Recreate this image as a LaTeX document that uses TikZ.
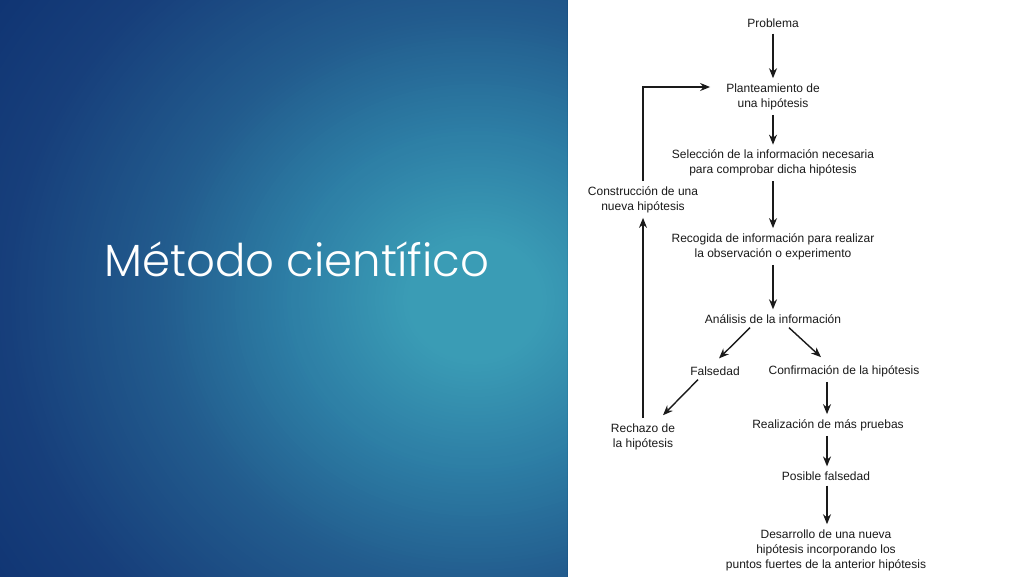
\documentclass[tikz,border=0pt]{standalone}
\usepackage{fontspec}
\setmainfont{Liberation Sans}
\newfontfamily\titlefont{Poppins Light}
\usetikzlibrary{arrows.meta}
\definecolor{ink}{HTML}{1A1A1A}
\definecolor{cA}{HTML}{3A9CB5}
\definecolor{cB}{HTML}{2D7EA5}
\definecolor{cC}{HTML}{225B8D}
\definecolor{cD}{HTML}{173F7B}
\definecolor{cE}{HTML}{0F3372}
\tikzset{
  lbl/.style={font=\fontsize{12}{15}\selectfont, text=ink, align=center, inner sep=1pt},
  arr/.style={-{Stealth[length=10pt,width=8pt]}, line width=1.4pt, draw=ink}
}
\begin{document}
\begin{tikzpicture}[x=1pt,y=-1pt]
\useasboundingbox (0,0) rectangle (1024,576);
\fill[white] (0,0) rectangle (1024,576);
\begin{scope}
  \clip (0,0) rectangle (567,576);
  \fill[cE] (0,0) rectangle (567,576);
  \foreach \r in {640,636,...,4} {
    \ifdim\r pt>470pt
      \pgfmathsetmacro\p{min(100,(\r-470)/130*100)}\edef\col{cE!\p!cD}%
    \else\ifdim\r pt>320pt
      \pgfmathsetmacro\p{(\r-320)/150*100}\edef\col{cD!\p!cC}%
    \else\ifdim\r pt>190pt
      \pgfmathsetmacro\p{(\r-190)/130*100}\edef\col{cC!\p!cB}%
    \else\ifdim\r pt>70pt
      \pgfmathsetmacro\p{(\r-70)/120*100}\edef\col{cB!\p!cA}%
    \else
      \edef\col{cA}%
    \fi\fi\fi\fi
    \fill[color=\col] (475,300) ellipse [x radius=\r pt, y radius=0.9*\r pt];
  }
\end{scope}
\node[anchor=base west, text=white, inner sep=0pt] (title) at (104,276) {\resizebox{385pt}{!}{\titlefont Método científico}};

\node[lbl] (prob) at (773,23) {Problema};
\node[lbl] (plan) at (773,96.5) {Planteamiento de\\una hipótesis};
\node[lbl] (sel) at (773,163) {Selección de la información necesaria\\para comprobar dicha hipótesis};
\node[lbl] (rec) at (773,246.5) {Recogida de información para realizar\\la observación o experimento};
\node[lbl] (ana) at (773,319) {Análisis de la información};
\node[lbl] (fal) at (715,371) {Falsedad};
\node[lbl] (conf) at (844,371) {Confirmación de la hipótesis};
\node[lbl] (rech) at (643,436.5) {Rechazo de\\la hipótesis};
\node[lbl] (cons) at (643,199.5) {Construcción de una\\nueva hipótesis};
\node[lbl] (real) at (828,425) {Realización de más pruebas};
\node[lbl] (pos) at (826,476) {Posible falsedad};
\node[lbl] (des) at (826,550) {Desarrollo de una nueva\\hipótesis incorporando los\\puntos fuertes de la anterior hipótesis};
\coordinate (colR) at (827,0);

\draw[arr, shorten <=5pt, shorten >=4pt] (prob.south) -- (plan.north);
\draw[arr, shorten <=4pt, shorten >=4pt] (plan.south) -- (sel.north);
\draw[arr, shorten <=4pt, shorten >=4pt] (sel.south) -- (rec.north);
\draw[arr, shorten <=4pt, shorten >=4pt] (rec.south) -- (ana.north);
\draw[arr] ([xshift=-23pt,yshift=-3pt]ana.south) -- ([xshift=4pt,yshift=7pt]fal.north);
\draw[arr] ([xshift=16pt,yshift=-3pt]ana.south) -- ([xshift=-23pt,yshift=7pt]conf.north);
\draw[arr] ([xshift=-17pt,yshift=-3pt]fal.south) -- ([xshift=20pt,yshift=7pt]rech.north);
\draw[arr, shorten <=4pt, shorten >=4pt] (conf.south -| colR) -- (real.north -| colR);
\draw[arr, shorten <=4pt, shorten >=4pt] (real.south -| colR) -- (pos.north -| colR);
\draw[arr, shorten <=4pt, shorten >=4pt] (pos.south -| colR) -- (des.north -| colR);
\draw[arr, shorten <=4pt, shorten >=4pt] (rech.north) -- (cons.south);
\draw[arr, shorten <=4pt, shorten >=15pt] (cons.north) |- ([yshift=9.5pt]plan.west);
\end{tikzpicture}
\end{document}
